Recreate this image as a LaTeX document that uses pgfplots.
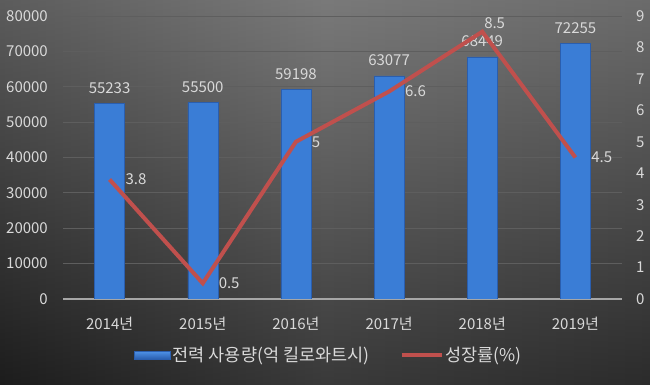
\documentclass[border=0pt]{standalone}
\usepackage{pgfplots}
\usepackage{pgfplotstable}
\pgfplotsset{compat=1.18}
\usepackage{fontspec}
\setmainfont{Noto Sans CJK KR}
\definecolor{txt}{HTML}{D9D9D9}
\definecolor{barc}{HTML}{3A7DD6}
\definecolor{barl}{HTML}{4F93E8}
\definecolor{bard}{HTML}{2A5EAE}
\definecolor{linec}{HTML}{C0504D}
\definecolor{gridc}{HTML}{5E5E5E}
\definecolor{axc}{HTML}{A6A6A6}
\definecolor{bgL}{HTML}{262626}
\definecolor{bgM}{HTML}{4D4D4D}
\definecolor{bgR}{HTML}{3A3A3A}

\pgfplotstableread{
x val
0 55233
1 55500
2 59198
3 63077
4 68449
5 72255
}\bars

\pgfplotstableread{
x rate
0 3.8
1 0.5
2 5
3 6.6
4 8.5
5 4.5
}\rates

\begin{document}
\begin{tikzpicture}[x=1pt,y=1pt]
\shade[left color=bgL, right color=bgR, middle color=bgM] (0,0) rectangle (650,385);
\shade[top color=black!0, bottom color=black, opacity=0.25] (0,0) rectangle (650,385);
\path[use as bounding box] (0,0) rectangle (650,385);

\begin{axis}[
  at={(63pt,86pt)}, anchor=south west,
  scale only axis, width=559pt, height=283pt,
  xmin=-0.5, xmax=5.5, ymin=0, ymax=80000,
  ytick={0,10000,...,80000},
  xtick={0,...,5},
  xticklabels={2014년,2015년,2016년,2017년,2018년,2019년},
  scaled y ticks=false,
  /pgf/number format/1000 sep={},
  /pgf/number format/assume math mode=true,
  axis x line*=bottom, axis y line*=left,
  x axis line style={draw=axc, line width=2pt},
  y axis line style={draw=none},
  major tick length=0pt,
  ymajorgrids, grid style={gridc, line width=0.8pt},
  tick label style={font=\fontsize{15}{17}\selectfont, text=txt},
  yticklabel style={inner sep=0pt, xshift=-15pt},
  xticklabel style={inner sep=0pt, yshift=-18pt},
  ybar, bar width=30pt,
  legend style={at={(0.476,-0.198)}, anchor=center, draw=none, fill=none,
    legend columns=2, text=txt, font=\fontsize{17.5}{20}\selectfont,
    /tikz/every even column/.append style={column sep=28pt}},
  legend cell align=left,
]
\addplot[draw=bard, fill=barc,
  nodes near coords, point meta=y,
  every node near coord/.append style={text=txt, font=\fontsize{15}{17}\selectfont, inner sep=0pt, anchor=south, yshift=10pt},
  legend image code/.code={\draw[draw=bard, top color=barl, bottom color=bard] (0pt,-4pt) rectangle (36pt,4pt);}
] table[x=x, y=val] {\bars};
\addlegendentry{전력 사용량(억 킬로와트시)}
\addlegendimage{legend image code/.code={\draw[linec, line width=4pt] (0pt,0pt) -- (40pt,0pt);}}
\addlegendentry{성장률(\%)}
\end{axis}

\begin{axis}[
  at={(63pt,86pt)}, anchor=south west,
  scale only axis, width=559pt, height=283pt,
  xmin=-0.5, xmax=5.5, ymin=0, ymax=9,
  ytick={0,...,9},
  axis x line=none, axis y line*=right,
  y axis line style={draw=none},
  /pgf/number format/assume math mode=true,
  major tick length=0pt,
  tick label style={font=\fontsize{15}{17}\selectfont, text=txt},
  yticklabel style={inner sep=0pt, xshift=14pt},
]
\addplot[linec, line width=4pt, mark=none,
  nodes near coords, point meta=explicit,
  every node near coord/.append style={text=txt, font=\fontsize{15}{17}\selectfont, inner sep=0pt, anchor=west, xshift=14pt},
  coordinate style/.condition={\coordindex==4}{anchor=south, xshift=-14pt, yshift=9pt},
] table[x=x, y=rate, meta=rate] {\rates};
\end{axis}
\end{tikzpicture}
\end{document}
